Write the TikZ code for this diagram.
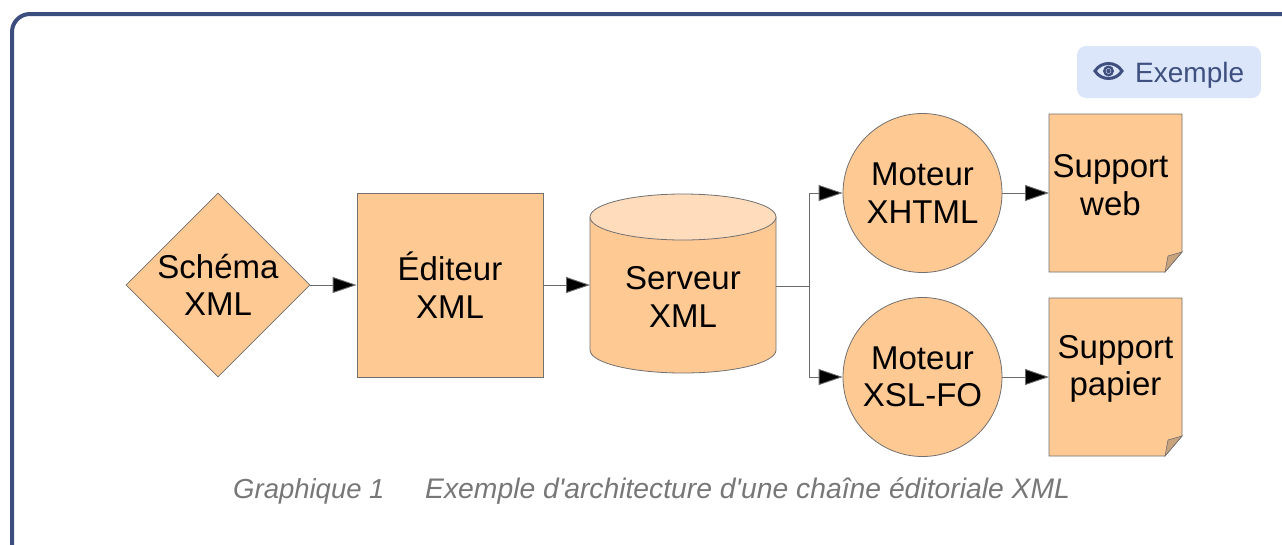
\documentclass[tikz,border=0pt]{standalone}
\usepackage{fontspec}
\setmainfont{Liberation Sans}
\usetikzlibrary{shapes.geometric,arrows.meta}
\definecolor{peach}{HTML}{FFC994}
\definecolor{peachlight}{HTML}{FFDCBC}
\definecolor{foldtan}{HTML}{C9A27E}
\definecolor{edge}{HTML}{707070}
\definecolor{wire}{HTML}{6A6A6A}
\definecolor{frameblue}{HTML}{3B4E7E}
\definecolor{badgefill}{HTML}{DCE6FB}
\definecolor{badgeink}{HTML}{3E4F80}
\definecolor{captiongray}{HTML}{777777}
\tikzset{
  blockshape/.style={fill=peach, draw=edge, line width=0.8pt, inner sep=0pt},
  blocktext/.style={font=\fontsize{33}{37.5}\selectfont, align=center, text=black},
  flow/.style={draw=wire, line width=0.9pt, -{Triangle[length=24pt,width=16pt,fill=black]}},
  link/.style={draw=wire, line width=0.9pt},
  captext/.style={anchor=base west, text=captiongray, font=\fontsize{27.5}{30}\selectfont\itshape, inner sep=0pt},
}
\begin{document}
\begin{tikzpicture}[x=1pt,y=1pt]
\useasboundingbox (0,0) rectangle (1282,-544);
% outer frame, running off the right and bottom edges
\begin{scope}
\clip (0,0) rectangle (1282,-544);
\draw[frameblue, line width=4pt, rounded corners=18pt] (12,-600) -- (12,-14) -- (1320,-14) -- (1320,-600);
\end{scope}

% badge with eye icon
\node[fill=badgefill, rounded corners=9pt, minimum width=184pt, minimum height=52pt, inner sep=0pt] (badge) at (1169,-72) {};
\node[anchor=base west, text=badgeink, font=\fontsize{28}{30}\selectfont, inner sep=0pt] (badgetext) at (1135,-82) {Exemple};
\draw[badgeink, line width=3pt] (1095,-71) .. controls (1101,-61) and (1116,-61) .. (1122,-71) .. controls (1116,-81) and (1101,-81) .. (1095,-71) -- cycle;
\draw[badgeink, line width=2.4pt] (1108.5,-71) circle (4.2pt);
\fill[badgeink] (1108.5,-71) circle (2.2pt);

% diagram shapes
\node[blockshape, diamond, minimum width=184pt, minimum height=184pt] (schema) at (218,-285) {};
\node[blocktext] at (schema.center) {Schéma\\XML};

\node[blockshape, rectangle, minimum width=186pt, minimum height=184pt] (editeur) at (450,-285) {};
\node[blocktext] at (editeur.center) {Éditeur\\XML};

% database cylinder
\coordinate (srvw) at (590,-285);
\coordinate (srve) at (776,-286);
\fill[peach] (590,-217) -- (590,-350) arc[start angle=180,end angle=360,x radius=93,y radius=23] -- (776,-217) -- cycle;
\draw[edge, line width=0.8pt] (590,-217) -- (590,-350) arc[start angle=180,end angle=360,x radius=93,y radius=23] -- (776,-217);
\draw[edge, line width=0.8pt, fill=peachlight] (683,-217) ellipse[x radius=93, y radius=23];
\node[blocktext] (serveur) at (683,-297) {Serveur\\XML};

\node[blockshape, circle, minimum size=159pt] (xhtml) at (922.5,-193) {};
\node[blocktext] at (xhtml.center) {Moteur\\XHTML};
\node[blockshape, circle, minimum size=159pt] (xslfo) at (922.5,-377) {};
\node[blocktext] at (xslfo.center) {Moteur\\XSL-FO};

% document sheets with curled corner
\coordinate (webw) at (1049,-193);
\fill[peach] (1049,-114) -- (1182,-114) -- (1182,-252) -- (1165,-272) -- (1049,-272) -- cycle;
\draw[edge, line width=0.8pt] (1049,-114) -- (1182,-114) -- (1182,-252) -- (1165,-272) -- (1049,-272) -- cycle;
\draw[edge, line width=0.6pt, fill=foldtan] (1182,-252) -- (1168,-256) -- (1165,-272) -- cycle;
\node[blocktext] (web) at (1110.5,-185) {Support\\web};

\coordinate (papw) at (1049,-377);
\fill[peach] (1049,-298) -- (1182,-298) -- (1182,-436) -- (1165,-456) -- (1049,-456) -- cycle;
\draw[edge, line width=0.8pt] (1049,-298) -- (1182,-298) -- (1182,-436) -- (1165,-456) -- (1049,-456) -- cycle;
\draw[edge, line width=0.6pt, fill=foldtan] (1182,-436) -- (1168,-440) -- (1165,-456) -- cycle;
\node[blocktext] (papier) at (1115.5,-369) {Support\\papier};

% connectors
\draw[flow] (schema.east) -- (editeur.west);
\draw[flow] (editeur.east) -- (srvw);
\coordinate (split) at (809,-286);
\draw[link] (srve) -- (split);
\draw[flow] (split) |- (xhtml.west);
\draw[flow] (split) |- (xslfo.west);
\draw[flow] (xhtml.east) -- (webw);
\draw[flow] (xslfo.east) -- (papw);

% caption
\node[captext] (capnum) at (233,-498) {Graphique 1};
\node[captext, font=\fontsize{28.3}{30}\selectfont\itshape] (captxt) at (425,-498) {Exemple d\textquotesingle architecture d\textquotesingle une chaîne éditoriale XML};
\end{tikzpicture}
\end{document}
